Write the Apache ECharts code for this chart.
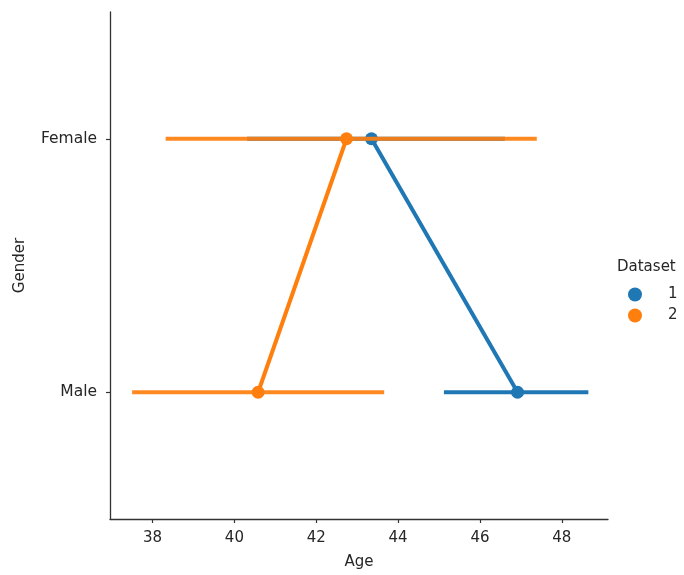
<!DOCTYPE html>
<html>
<head>
<meta charset="utf-8">
<script src="https://cdn.jsdelivr.net/npm/echarts@6/dist/echarts.min.js"></script>
<style>html,body{margin:0;padding:0;background:#fff}#c{width:684px;height:575px}</style>
</head>
<body>
<div id="c"></div>
<script>
const genders = ['Male', 'Female'];
const xTicks = [38, 40, 42, 44, 46, 48];
const ds1Mean = [46.92, 43.35];
const ds1Lo = [45.12, 40.31];
const ds1Hi = [48.65, 46.61];
const ds2Mean = [40.58, 42.74];
const ds2Lo = [37.50, 38.32];
const ds2Hi = [43.66, 47.39];
const seriesNames = ['1', '2'];
const colors = ['#1f77b4', '#ff7f0e'];

const FONT = 'DejaVu Sans';
const TXT = '#262626';

function buildSeries(name, color, mean, lo, hi, z, errOpacity) {
  const out = [];
  genders.forEach((g, i) => {
    out.push({
      type: 'line', name: name, data: [[lo[i], g], [hi[i], g]],
      symbol: 'none', lineStyle: {color: color, width: 4, opacity: errOpacity},
      itemStyle: {color: color}, z: z, silent: true, animation: false
    });
  });
  out.push({
    type: 'line', name: name, data: genders.map((g, i) => [mean[i], g]),
    symbol: 'circle', symbolSize: 13, showSymbol: true,
    lineStyle: {color: color, width: 4}, itemStyle: {color: color, borderWidth: 0},
    z: z + 1, animation: false
  });
  return out;
}

const chart = echarts.init(document.getElementById('c'));
chart.setOption({
  animation: false,
  grid: {left: 110, right: 76, top: 12, bottom: 51, containLabel: false},
  xAxis: {
    type: 'value', min: 36.96, max: 49.13,
    name: 'Age', nameLocation: 'middle', nameGap: 36,
    nameTextStyle: {fontFamily: FONT, fontSize: 15, color: TXT},
    axisLine: {show: true, onZero: false, lineStyle: {color: '#333', width: 1.3}},
    axisTick: {show: true, length: 4, lineStyle: {color: '#333', width: 1.2}, customValues: xTicks},
    axisLabel: {fontFamily: FONT, fontSize: 15, color: TXT, margin: 12, customValues: xTicks},
    splitLine: {show: false}
  },
  yAxis: {
    type: 'category', data: genders, boundaryGap: true,
    name: 'Gender', nameLocation: 'middle', nameGap: 82, nameRotate: 90,
    nameTextStyle: {fontFamily: FONT, fontSize: 15, color: TXT},
    axisLine: {show: true, lineStyle: {color: '#333', width: 1.3}},
    axisTick: {show: true, length: 4, alignWithLabel: true, lineStyle: {color: '#333', width: 1.2}},
    axisLabel: {fontFamily: FONT, fontSize: 15.5, color: TXT, margin: 13},
    splitLine: {show: false}
  },
  legend: {
    orient: 'vertical', left: 623, top: 282, itemWidth: 14, itemHeight: 14, itemGap: 6,
    icon: 'circle',
    data: seriesNames.map((n, i) => ({name: n, itemStyle: {color: colors[i]}})),
    textStyle: {fontFamily: FONT, fontSize: 15, color: TXT, padding: [0, 0, 0, 21]}
  },
  graphic: [{
    type: 'text', left: 617, top: 260,
    style: {text: 'Dataset', fontFamily: FONT, fontSize: 15, fill: TXT}
  }],
  series: [
    ...buildSeries(seriesNames[0], colors[0], ds1Mean, ds1Lo, ds1Hi, 2, 1),
    ...buildSeries(seriesNames[1], colors[1], ds2Mean, ds2Lo, ds2Hi, 4, 0.92)
  ]
});
</script>
</body>
</html>
